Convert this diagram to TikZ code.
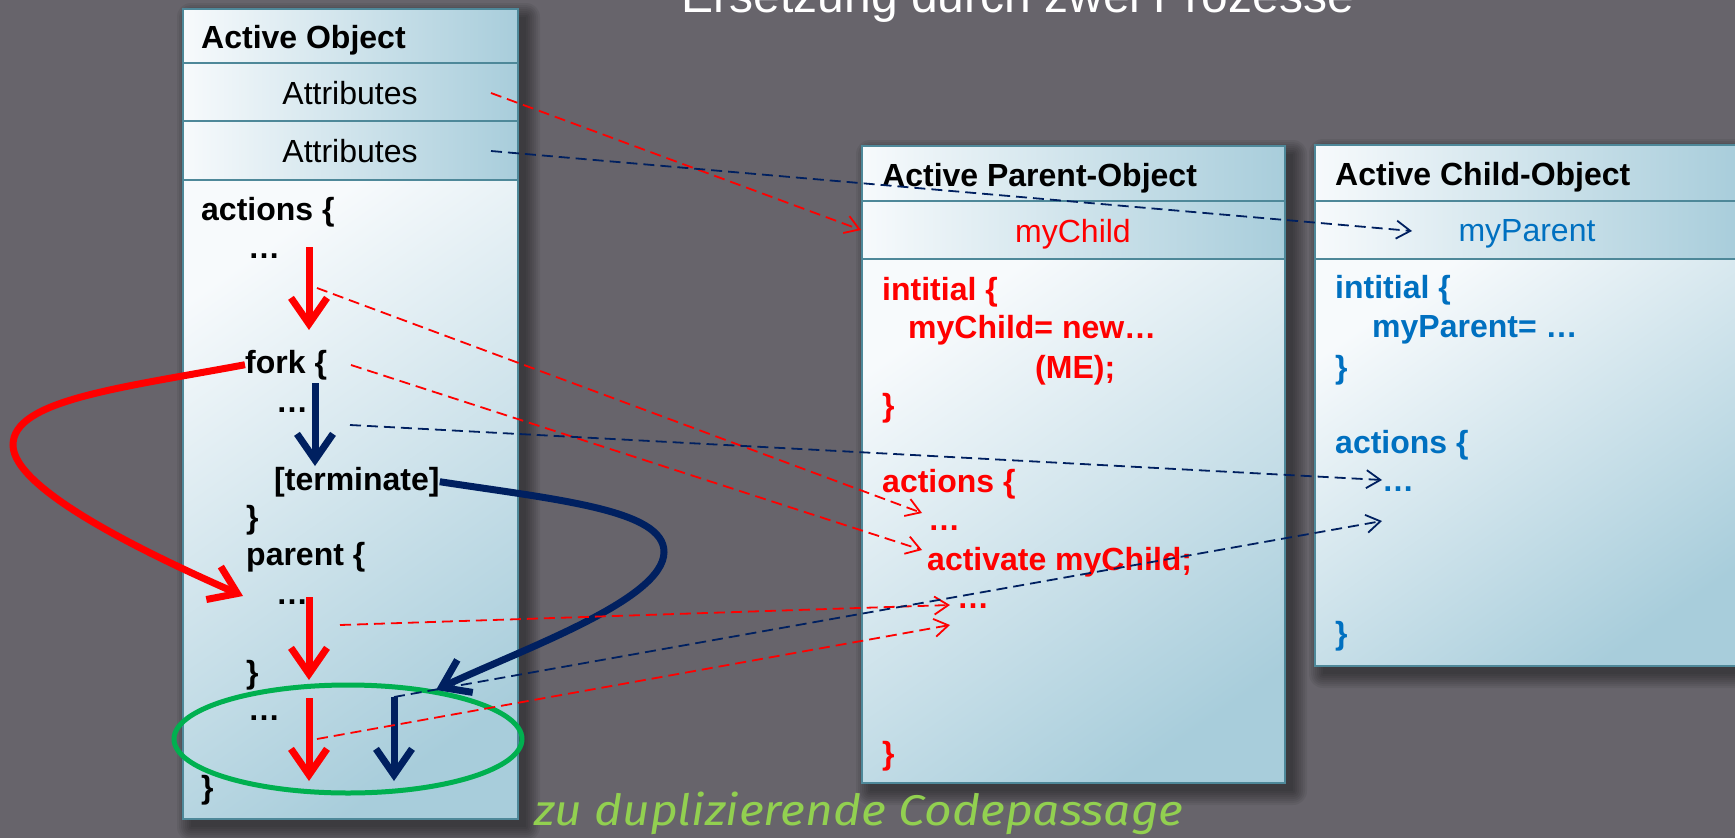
\documentclass[tikz,border=0pt]{standalone}
\usepackage{fontspec}
\setmainfont{Liberation Sans}
\newfontfamily\handfont{Fira Sans}
\usetikzlibrary{arrows.meta,calc,shapes.geometric}

\definecolor{bg}{RGB}{103,100,107}
\definecolor{boxline}{RGB}{78,136,153}
\definecolor{boxblue}{RGB}{168,205,219}
\definecolor{boxwhite}{RGB}{247,250,252}
\definecolor{codered}{RGB}{255,0,0}
\definecolor{navy}{RGB}{0,32,96}
\definecolor{codeblue}{RGB}{0,112,192}
\definecolor{ellgreen}{RGB}{0,176,80}
\definecolor{notegreen}{RGB}{146,208,80}

\tikzset{
  frame/.style={inner sep=0pt, outer sep=0pt, anchor=north west},
  compart/.style={draw=boxline, line width=2.5pt, inner sep=0pt, outer sep=0pt, anchor=north west,
    left color=boxwhite, right color=boxblue},
  bodypart/.style={draw=boxline, line width=2.5pt, inner sep=0pt, outer sep=0pt, anchor=north west,
    top color=boxwhite, bottom color=boxblue, shading angle=35},
  hdr/.style={anchor=base west, inner sep=0pt, font=\fontsize{32}{38}\selectfont\bfseries},
  attr/.style={anchor=base, inner sep=0pt, font=\fontsize{32}{38}\selectfont},
  code/.style={anchor=base west, inner sep=0pt, font=\fontsize{32}{38}\selectfont\bfseries},
  flow/.style={line width=7pt, -{Straight Barb[length=26pt,width=36pt]}},
  link/.style={line width=1.8pt, dash pattern=on 11pt off 6pt, -{Straight Barb[length=14pt,width=18pt]}},
}

\begin{document}
\begin{tikzpicture}[x=1pt,y=-1pt]
\useasboundingbox (0,0) rectangle (1735,838);
\fill[bg] (0,0) rectangle (1735,838);

% title
\node[anchor=base, inner sep=0pt, text=white, font=\fontsize{48}{56}\selectfont] (title) at (1018,12) {Ersetzung durch zwei Prozesse};

% box frames (for shadows)
\node[frame, minimum width=335pt, minimum height=810pt] (ao) at (183,9) {};
\node[frame, minimum width=423pt, minimum height=637pt] (po) at (862,146) {};
\node[frame, minimum width=424pt, minimum height=521pt] (co) at (1315,145) {};
\foreach \b in {ao,po,co}{
  \foreach \e in {0,2,...,14}{
    \fill[black, opacity=0.06, rounded corners=\e pt]
      ([shift={(8-\e,8-\e)}]\b.north west) rectangle ([shift={(8+\e,8+\e)}]\b.south east);
  }
}

% Active Object
\node[compart, minimum width=335pt, minimum height=54pt] (aoh) at (183,9) {};
\node[compart, minimum width=335pt, minimum height=58pt] (aoa1) at (183,63) {};
\node[compart, minimum width=335pt, minimum height=59pt] (aoa2) at (183,121) {};
\node[bodypart, minimum width=335pt, minimum height=639pt] (aob) at (183,180) {};

\node[hdr] (tAO) at (201,48) {Active Object};
\node[attr] (tAttr1) at (350,104) {Attributes};
\node[attr] (tAttr2) at (350,162) {Attributes};
\node[code] (tAct) at (201,220) {actions \{};
\node[code] (tDots1) at (248,258) {…};
\node[code] (tFork) at (245,373) {fork \{};
\node[code] (tDots2) at (276,412) {…};
\node[code] (tTerm) at (274,490) {[terminate]};
\node[code] (tClose1) at (246,528) {\}};
\node[code] (tParent) at (246,565) {parent \{};
\node[code] (tDots3) at (276,604) {…};
\node[code] (tClose2) at (246,683) {\}};
\node[code] (tDots4) at (248,720) {…};
\node[code] (tClose3) at (201,798) {\}};

% Active Parent-Object
\node[compart, minimum width=423pt, minimum height=55pt] (poh) at (862,146) {};
\node[compart, minimum width=423pt, minimum height=58pt] (poa) at (862,201) {};
\node[bodypart, minimum width=423pt, minimum height=524pt] (pob) at (862,259) {};

\node[hdr] (tAPO) at (882,186) {Active Parent-Object};
\node[attr, text=codered] (tMyChild) at (1073,242) {myChild};
\begin{scope}[every node/.style={code, text=codered}]
\node (pInit) at (882,300) {intitial \{};
\node (pNew) at (908,338) {myChild= new…};
\node (pME) at (1035,378) {(ME);};
\node (pClose1) at (882,416) {\}};
\node (pAct) at (882,492) {actions \{};
\node (pDots1) at (928,530) {…};
\node (pActivate) at (927,570) {activate myChild;};
\node (pDots2) at (957,608) {…};
\node (pClose2) at (882,764) {\}};
\end{scope}

% Active Child-Object
\node[compart, minimum width=424pt, minimum height=56pt] (coh) at (1315,145) {};
\node[compart, minimum width=424pt, minimum height=58pt] (coa) at (1315,201) {};
\node[bodypart, minimum width=424pt, minimum height=407pt] (cob) at (1315,259) {};

\node[hdr] (tACO) at (1335,185) {Active Child-Object};
\node[attr, text=codeblue] (tMyParent) at (1527,241) {myParent};
\begin{scope}[every node/.style={code, text=codeblue}]
\node (cInit) at (1335,298) {intitial \{};
\node (cPar) at (1372,337) {myParent= …};
\node (cClose1) at (1335,378) {\}};
\node (cAct) at (1335,453) {actions \{};
\node (cDots) at (1382,491) {…};
\node (cClose2) at (1335,644) {\}};
\end{scope}

% note
\node[anchor=base west, inner sep=0pt, text=notegreen, font=\handfont\itshape\fontsize{43}{50}\selectfont] (note) at (534,825) {\scalebox{1.115}[1]{zu duplizierende Codepassage}};

% duplicate ellipse
\node[draw=ellgreen, line width=5pt, ellipse, inner sep=0pt, minimum width=348pt, minimum height=108pt] (dup) at (348,739) {};

% flow arrows
\coordinate (r1s) at (309,247); \coordinate (r1e) at (309,330);
\coordinate (r2s) at (309,597); \coordinate (r2e) at (309,680);
\coordinate (r3s) at (309,698); \coordinate (r3e) at (309,781);
\coordinate (n1s) at (315,383); \coordinate (n1e) at (315,466);
\coordinate (n2s) at (394,697); \coordinate (n2e) at (394,781);
\coordinate (forkTip) at (243,596);
\coordinate (termTip) at (436,690);
\draw[flow, codered] (r1s) -- (r1e);
\draw[flow, codered] (r2s) -- (r2e);
\draw[flow, codered] (r3s) -- (r3e);
\draw[flow, navy] (n1s) -- (n1e);
\draw[flow, navy] (n2s) -- (n2e);
\draw[flow, codered] (tFork.west) .. controls (120,388) and (13,400) .. (13,445)
   .. controls (13,490) and (150,555) .. (forkTip);
\draw[flow, navy] (tTerm.east) .. controls (560,500) and (664,510) .. (664,552)
   .. controls (664,600) and (520,650) .. (termTip);

% dashed links
\coordinate (l1s) at (491,93);   \coordinate (l1e) at (861,230);
\coordinate (l2s) at (491,151);  \coordinate (l2e) at (1412,231);
\coordinate (l3s) at (317,288);  \coordinate (l3e) at (922,513);
\coordinate (l4s) at (351,365);  \coordinate (l4e) at (922,550);
\coordinate (l5s) at (350,425);  \coordinate (l5e) at (1382,480);
\coordinate (l6s) at (340,625);  \coordinate (l6e) at (950,605);
\coordinate (l7s) at (317,739);  \coordinate (l7e) at (950,625);
\coordinate (l8e) at (1382,521);
\draw[link, codered] (l1s) -- (l1e);
\draw[link, navy] (l2s) -- (l2e);
\draw[link, codered] (l3s) -- (l3e);
\draw[link, codered] (l4s) -- (l4e);
\draw[link, navy] (l5s) -- (l5e);
\draw[link, codered] (l6s) -- (l6e);
\draw[link, codered] (l7s) -- (l7e);
\draw[link, navy] (n2s) -- (l8e);
\end{tikzpicture}
\end{document}
